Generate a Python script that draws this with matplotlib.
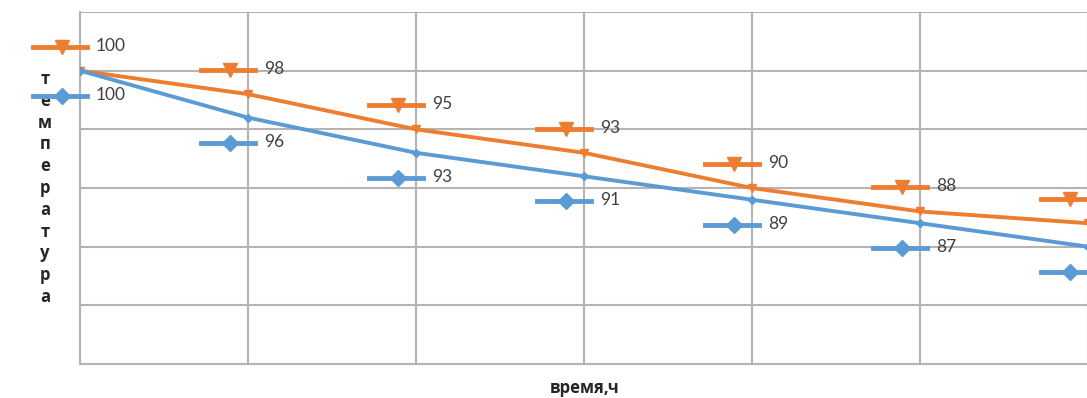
import matplotlib
matplotlib.use("Agg")
import matplotlib.pyplot as plt
from matplotlib.lines import Line2D
from matplotlib.transforms import IdentityTransform

# Temperature readings over time (hours)
hours = [0, 1, 2, 3, 4, 5, 6]
series_top = [100, 98, 95, 93, 90, 88, 87]
series_bottom = [100, 96, 93, 91, 89, 87, 85]

ORANGE = "#ED7D31"
BLUE = "#5B9BD5"
GRID = "#B4B4B4"
LABEL_COLOR = "#404040"

W, H, DPI = 1087, 398, 100
fig = plt.figure(figsize=(W / DPI, H / DPI), dpi=DPI)

# Plot area: one category step is 168 px; the area runs past the right edge
step_px = 168
left_px, top_px, bottom_px = 80, 12, 364
x_max = 6.5
ax = fig.add_axes([left_px / W, (H - bottom_px) / H,
                   x_max * step_px / W, (bottom_px - top_px) / H])
ax.set_xlim(0, x_max)
ax.set_ylim(75, 105)
ax.set_yticks(range(75, 106, 5))
ax.set_xticks(hours)
ax.tick_params(length=0, labelleft=False, labelbottom=False)
ax.grid(True, color=GRID, linewidth=1.5)
for side in ("top", "right"):
    ax.spines[side].set_visible(False)
for side in ("left", "bottom"):
    ax.spines[side].set_color(GRID)
    ax.spines[side].set_linewidth(1.5)
ax.set_axisbelow(True)

ax.plot(hours, series_top, color=ORANGE, linewidth=2.8, marker="v",
        markersize=6, zorder=3)
ax.plot(hours, series_bottom, color=BLUE, linewidth=2.8, marker="D",
        markersize=4.5, zorder=3)

fig.canvas.draw()


def data_label(x, y, value, color, marker, msize, dy):
    """Value label with a legend key, placed dy pixels from the point."""
    px, py = ax.transData.transform((x, y))
    ky = py + dy
    key = Line2D([px - 47, px + 7], [ky, ky], color=color, linewidth=3.5,
                 transform=IdentityTransform(), clip_on=False, zorder=4)
    mk = Line2D([px - 18], [ky], color=color, marker=marker, markersize=msize,
                linestyle="none", transform=IdentityTransform(),
                clip_on=False, zorder=4)
    fig.add_artist(key)
    fig.add_artist(mk)
    tx = px + 16
    if tx < W:  # value text that starts past the right edge is not visible
        fig.text(tx / W, (ky + 1) / H, f"{value}", color=LABEL_COLOR,
                 fontsize=12.5, family="Lato", ha="left", va="center")


for x, v in zip(hours, series_top):
    data_label(x, v, v, ORANGE, "v", 10, 24)
for x, v in zip(hours, series_bottom):
    data_label(x, v, v, BLUE, "D", 8.5, -25)

# Axis titles
fig.text(45 / W, 1 - 188 / H, "\n".join("температура"), ha="center",
         va="center", fontsize=12, fontweight="bold", family="Open Sans",
         color="#262626", linespacing=1.27)
fig.text(585 / W, 1 - 388 / H, "время,ч", ha="center", va="center",
         fontsize=12, fontweight="bold", family="Open Sans", color="#262626")

fig.savefig("out.png", dpi=DPI)
